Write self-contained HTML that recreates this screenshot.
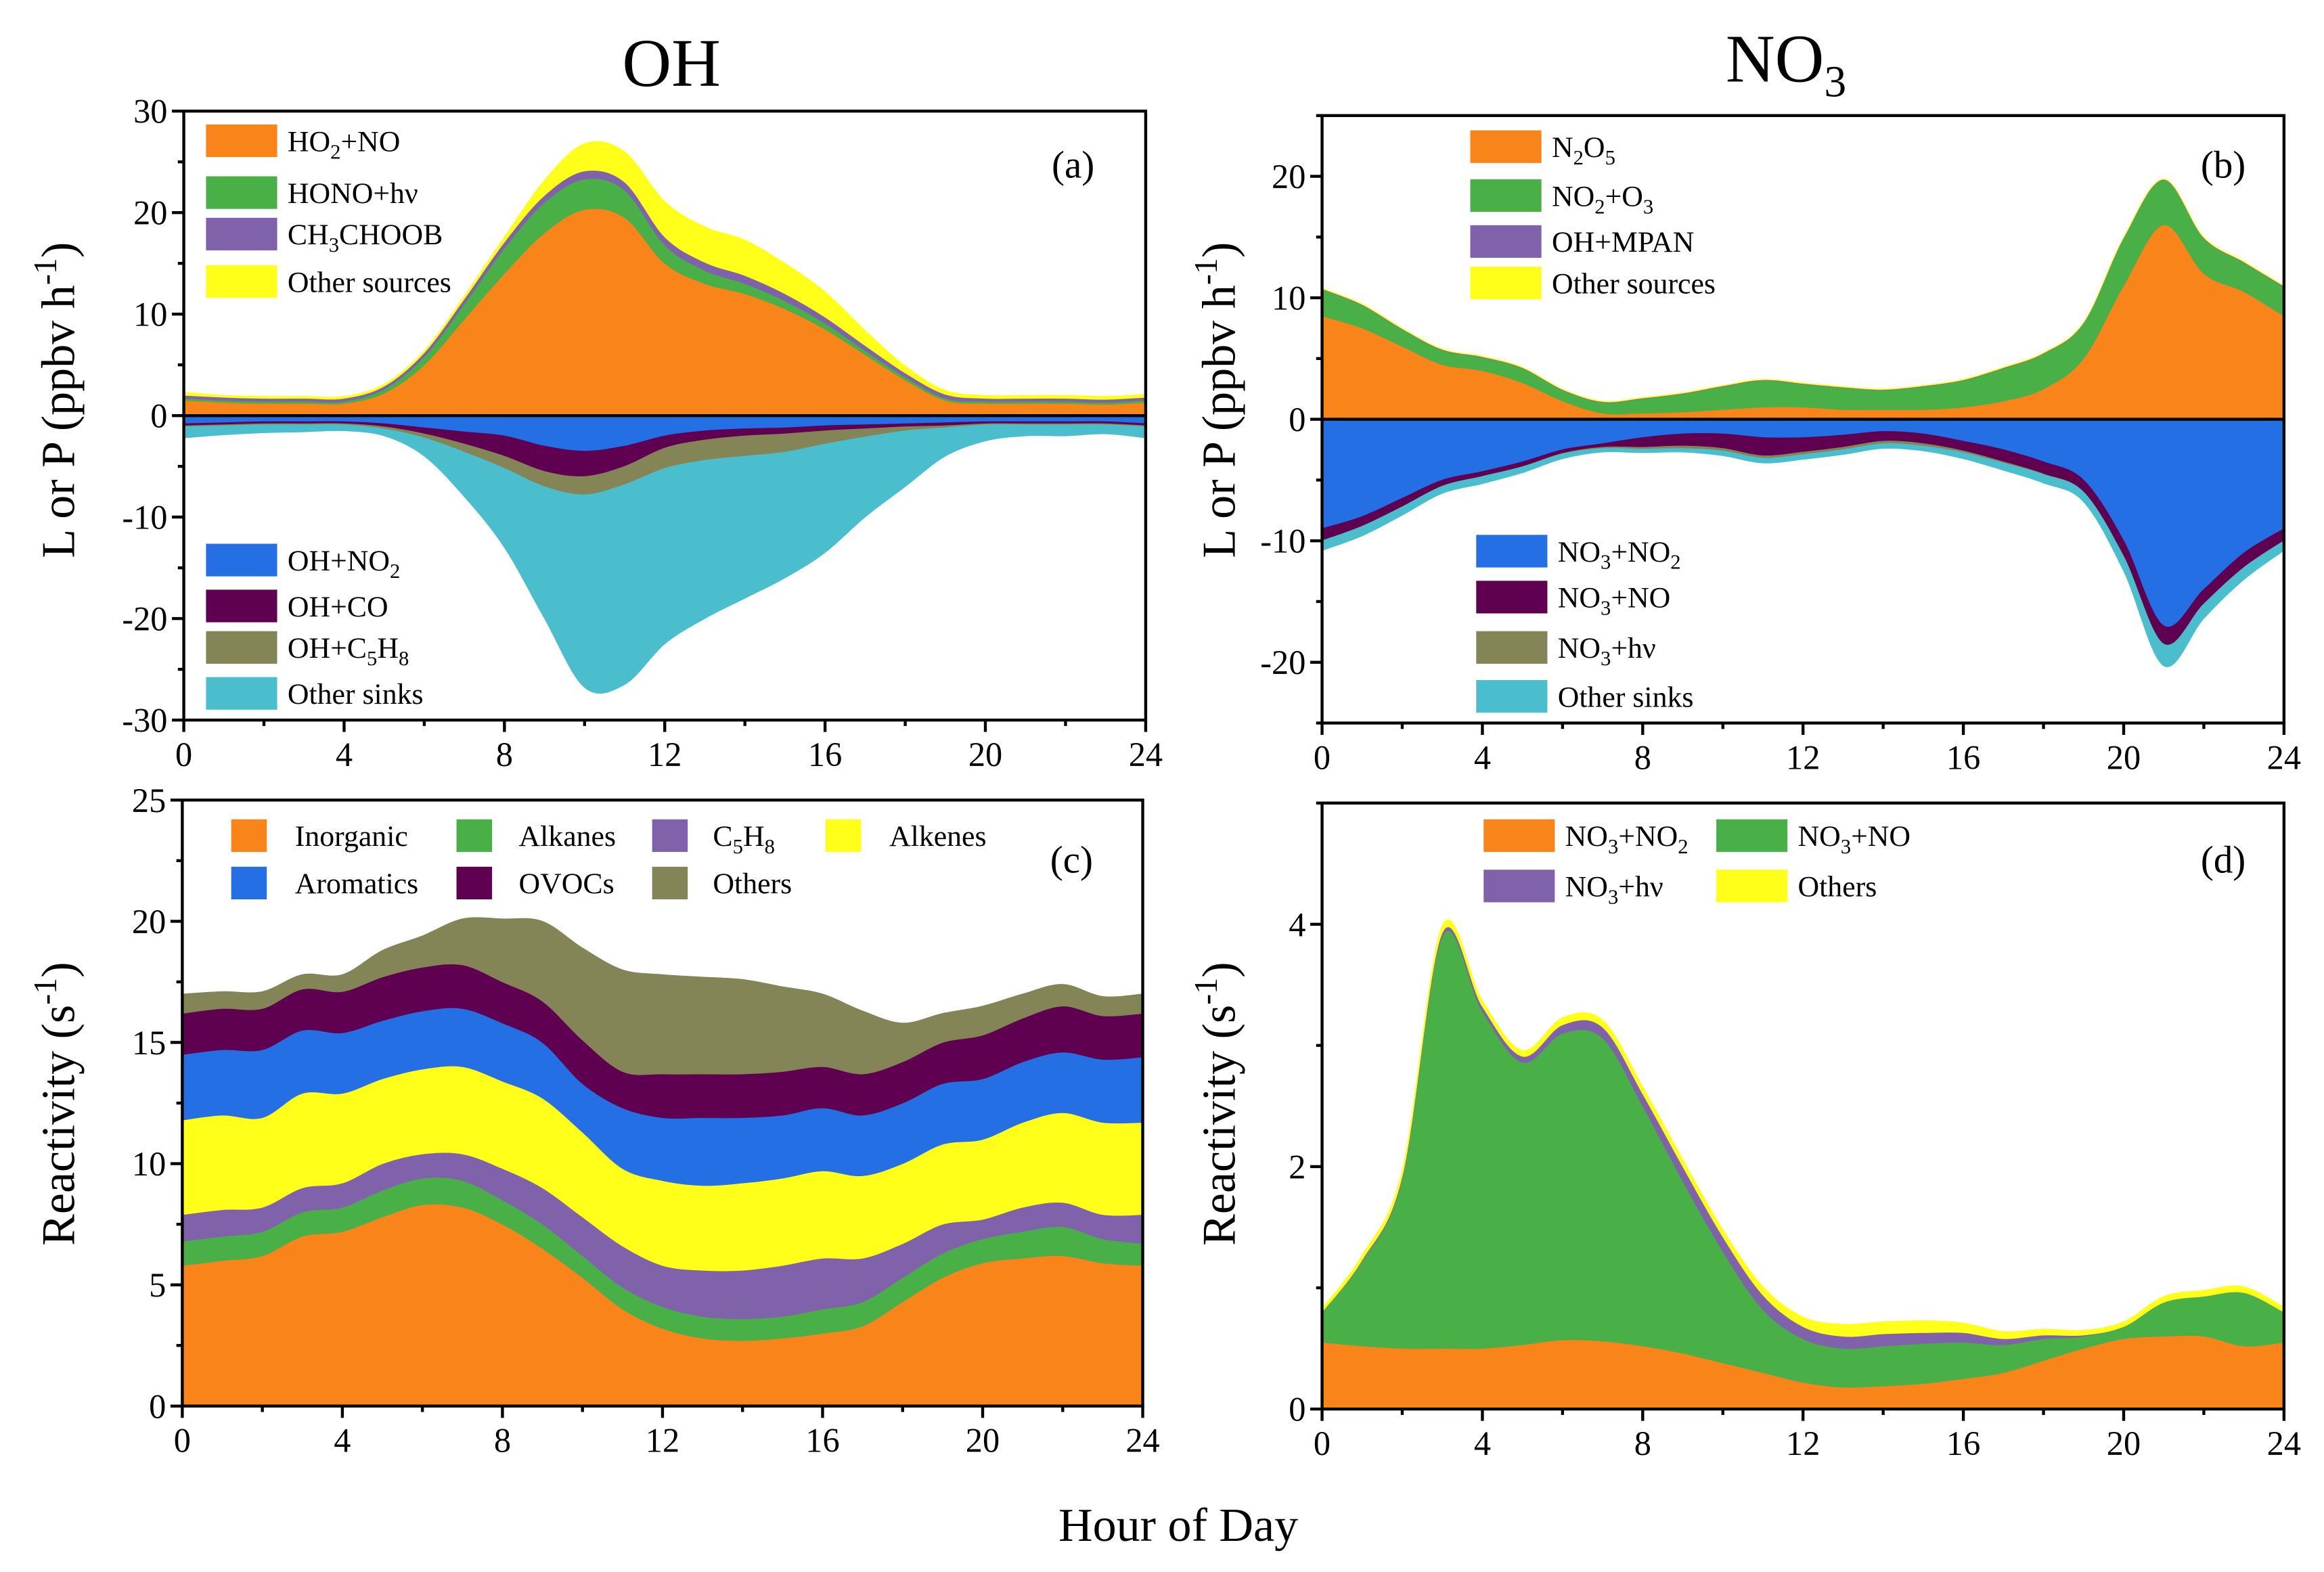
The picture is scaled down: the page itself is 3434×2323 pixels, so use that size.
<!DOCTYPE html>
<html><head><meta charset="utf-8">
<style>
html,body{margin:0;padding:0;background:#fff;}
svg{display:block;font-family:"Liberation Serif","DejaVu Serif",serif;}
svg text{font-family:"Liberation Serif","DejaVu Serif",serif;fill:#000;}
</style></head>
<body>
<svg id="fig" width="3434" height="2323" viewBox="0 0 1568 1061" preserveAspectRatio="none" font-family="'Liberation Serif', 'DejaVu Serif', serif" xmlns="http://www.w3.org/2000/svg">
<text x="453" y="58" font-size="46" text-anchor="middle">OH</text>
<text x="1205" y="55" font-size="46" text-anchor="middle">NO<tspan font-size="30" dy="10">3</tspan></text>
<text x="795" y="1040" font-size="32" text-anchor="middle">Hour of Day</text>
<text transform="translate(50,270) rotate(-90)" font-size="32" text-anchor="middle">L or P (ppbv h<tspan font-size="22" dy="-12">-1</tspan><tspan dy="12">)</tspan></text>
<text transform="translate(833,270) rotate(-90)" font-size="32" text-anchor="middle">L or P (ppbv h<tspan font-size="22" dy="-12">-1</tspan><tspan dy="12">)</tspan></text>
<text transform="translate(50,745) rotate(-90)" font-size="32" text-anchor="middle">Reactivity (s<tspan font-size="22" dy="-12">-1</tspan><tspan dy="12">)</tspan></text>
<text transform="translate(833,745) rotate(-90)" font-size="32" text-anchor="middle">Reactivity (s<tspan font-size="22" dy="-12">-1</tspan><tspan dy="12">)</tspan></text>
</svg>
<script>
const hours=[0,1,2,3,4,5,6,7,8,9,10,11,12,13,14,15,16,17,18,19,20,21,22,23,24];
// Panel a (OH) production
const aHO2NO=[1.5,1.3,1.2,1.2,1.2,2.2,5,9.5,14,18,20.3,19.5,15,13,12,10.5,8.5,6,3.5,1.5,1.2,1.2,1.2,1.1,1.3];
const aHONO=[0.2,0.2,0.2,0.2,0.2,0.4,0.8,1.5,2.5,3,3,2.7,1.8,1.3,1,0.8,0.6,0.4,0.3,0.2,0.2,0.2,0.2,0.2,0.2];
const aCH3=[0.3,0.3,0.3,0.3,0.3,0.3,0.4,0.5,0.6,0.7,0.8,0.8,0.8,0.8,0.8,0.7,0.6,0.5,0.4,0.4,0.3,0.3,0.3,0.3,0.3];
const aOtherSrc=[0.3,0.2,0.2,0.2,0.2,0.2,0.2,0.3,0.5,1.5,2.7,3,3.5,3.5,3.5,3,2.5,1.5,0.7,0.4,0.3,0.3,0.3,0.3,0.3];
// Panel a losses (negative)
const aOHNO2=[-0.8,-0.7,-0.6,-0.6,-0.6,-0.8,-1.2,-1.6,-2,-3,-3.5,-3,-2,-1.5,-1.3,-1.2,-1,-0.9,-0.8,-0.7,-0.6,-0.6,-0.6,-0.6,-0.8];
const aOHCO=[-0.2,-0.2,-0.2,-0.2,-0.2,-0.3,-0.6,-1.2,-2,-2.5,-2.5,-2,-1.2,-0.9,-0.7,-0.6,-0.5,-0.4,-0.3,-0.3,-0.2,-0.2,-0.2,-0.2,-0.2];
const aOHC5H8=[-0.1,-0.1,-0.1,-0.1,-0.1,-0.2,-0.4,-0.8,-1.2,-1.5,-1.8,-1.8,-2,-2,-2,-1.8,-1.3,-0.8,-0.4,-0.2,-0.1,-0.1,-0.1,-0.1,-0.1];
const aOtherSink=[-1.1,-0.9,-0.8,-0.7,-0.6,-0.7,-1.8,-4.4,-7.8,-13,-19,-19.7,-17.3,-15.6,-14,-12.4,-10.7,-7.9,-5.5,-2.8,-1.6,-1.1,-1.1,-0.9,-1.1];
// Panel b (NO3) production
const bN2O5=[8.5,7.5,6,4.5,4,3,1.5,0.5,0.5,0.6,0.8,1,1,0.8,0.8,0.8,1,1.5,2.5,5,11,16,12,10.5,8.5];
const bNO2O3=[2.2,1.9,1.4,1.2,1.1,1.2,0.9,0.9,1.2,1.5,1.9,2.2,1.9,1.8,1.6,1.9,2.2,2.7,2.9,2.9,3.9,3.7,2.9,2.4,2.4];
const bOHMPAN=[0.05,0.05,0.05,0.05,0.05,0.05,0.05,0.05,0.05,0.05,0.05,0.05,0.05,0.05,0.05,0.05,0.05,0.05,0.05,0.05,0.05,0.05,0.05,0.05,0.05];
const bOtherSrc=[0.05,0.05,0.05,0.05,0.05,0.05,0.05,0.05,0.05,0.05,0.05,0.05,0.05,0.05,0.05,0.05,0.05,0.05,0.05,0.05,0.05,0.05,0.05,0.05,0.05];
// Panel b losses
const bNO3NO2=[-9,-8,-6.5,-5,-4.3,-3.5,-2.5,-2,-1.5,-1.2,-1.2,-1.5,-1.5,-1.3,-1,-1.2,-1.8,-2.5,-3.5,-5,-10,-17,-14,-11,-9];
const bNO3NO=[-1,-0.8,-0.7,-0.5,-0.4,-0.4,-0.3,-0.3,-0.8,-1,-1.2,-1.5,-1.2,-1,-0.8,-0.8,-0.8,-1,-1,-1,-1.3,-1.5,-1.2,-1.2,-1];
const bNO3hv=[0,0,0,0,0,0,-0.05,-0.1,-0.15,-0.2,-0.2,-0.2,-0.2,-0.2,-0.2,-0.2,-0.15,-0.1,-0.05,0,0,0,0,0,0];
const bOtherSink=[-0.8,-0.8,-0.7,-0.6,-0.6,-0.5,-0.4,-0.3,-0.3,-0.3,-0.4,-0.4,-0.4,-0.4,-0.4,-0.4,-0.5,-0.6,-0.7,-0.8,-1.2,-1.8,-1.2,-1,-0.8];
// Panel c OH reactivity
const cInorganic=[5.8,6,6.2,7,7.2,7.8,8.3,8.2,7.5,6.5,5.3,4,3.2,2.8,2.7,2.8,3,3.3,4.3,5.3,5.9,6.1,6.2,5.9,5.8];
const cAlkanes=[1,1,1,1,1,1.1,1.1,1.1,1,1,0.9,0.9,0.9,0.9,0.9,0.9,1,1,1,1,1,1.1,1.2,1,0.9];
const cC5H8=[1.1,1.1,1,1,1,1.1,1.0,1.1,1.3,1.5,1.6,1.7,1.7,1.9,2,2.1,2.1,1.8,1.4,1.2,0.8,1.0,1.0,1.0,1.2];
const cAlkenes=[3.9,3.9,3.7,3.9,3.7,3.5,3.5,3.6,3.6,3.7,3.5,3.2,3.5,3.5,3.6,3.6,3.6,3.4,3.3,3.3,3.3,3.5,3.7,3.8,3.8];
const cAromatics=[2.7,2.7,2.8,2.6,2.5,2.4,2.4,2.4,2.4,2.3,2.0,2.5,2.6,2.8,2.7,2.6,2.6,2.5,2.5,2.5,2.5,2.5,2.5,2.6,2.7];
const cOVOCs=[1.7,1.7,1.7,1.7,1.7,1.8,1.8,1.8,1.7,1.7,1.8,1.5,1.8,1.8,1.8,1.8,1.7,1.7,1.7,1.7,1.8,1.8,1.9,1.8,1.8];
const cOthers=[0.8,0.7,0.7,0.6,0.7,1.1,1.3,1.9,2.6,3.3,3.8,4.2,4.1,4.0,3.9,3.5,3.0,2.6,1.6,1.2,1.2,1.0,0.9,0.8,0.8];
// Panel d NO3 reactivity
const dNO3NO2=[0.55,0.52,0.5,0.5,0.5,0.53,0.57,0.56,0.52,0.46,0.38,0.3,0.22,0.18,0.19,0.21,0.25,0.3,0.4,0.5,0.58,0.6,0.6,0.52,0.55];
const dNO3NO=[0.25,0.7,1.4,3.4,2.78,2.33,2.53,2.5,1.98,1.42,0.92,0.52,0.36,0.32,0.33,0.33,0.3,0.23,0.18,0.1,0.1,0.28,0.33,0.44,0.25];
const dNO3hv=[0,0.01,0.02,0.03,0.04,0.05,0.07,0.09,0.1,0.12,0.12,0.12,0.1,0.1,0.1,0.09,0.08,0.05,0.03,0.01,0,0,0,0,0];
const dOthers=[0.03,0.04,0.05,0.06,0.05,0.05,0.06,0.06,0.06,0.06,0.06,0.07,0.08,0.1,0.1,0.1,0.08,0.06,0.05,0.04,0.04,0.05,0.05,0.05,0.04];

const NS="http://www.w3.org/2000/svg";
const svg=document.getElementById('fig');
function mk(tag,attrs,parent){const e=document.createElementNS(NS,tag);for(const k in attrs)e.setAttribute(k,attrs[k]);(parent||svg).appendChild(e);return e;}
function smooth(pts){let d='';for(let i=0;i<pts.length-1;i++){const p0=pts[Math.max(0,i-1)],p1=pts[i],p2=pts[i+1],p3=pts[Math.min(pts.length-1,i+2)];
const c1=[p1[0]+(p2[0]-p0[0])/6,p1[1]+(p2[1]-p0[1])/6],c2=[p2[0]-(p3[0]-p1[0])/6,p2[1]-(p3[1]-p1[1])/6];
d+=' C'+c1[0].toFixed(2)+','+c1[1].toFixed(2)+' '+c2[0].toFixed(2)+','+c2[1].toFixed(2)+' '+p2[0].toFixed(2)+','+p2[1].toFixed(2);}return d;}
function rich(t,parts){let low=false;parts.forEach(p=>{const ts=document.createElementNS(NS,'tspan');
 if(Array.isArray(p)){ts.setAttribute('font-size','14');ts.setAttribute('dy',low?'0':'5');ts.textContent=p[0];low=true;}
 else{ts.setAttribute('dy',low?'-5':'0');ts.textContent=p;low=false;}t.appendChild(ts);});}

function panel(cfg){
 const {x0,x1,y0,y1,ymin,ymax}=cfg;
 const X=v=>x0+(v-0)/24*(x1-x0), Y=v=>y1-(v-ymin)/(ymax-ymin)*(y1-y0);
 const g=mk('g',{});
 
 
 cfg.stacks.forEach(st=>{
  let base=hours.map(()=>0);
  st.forEach(s=>{
   const top=base.map((b,i)=>b+s.v[i]);
   const up=hours.map((h,i)=>[X(h),Y(top[i])]);
   const lo=hours.map((h,i)=>[X(h),Y(base[i])]).reverse();
   const d='M'+up[0][0]+','+up[0][1]+smooth(up)+' L'+lo[0][0]+','+lo[0][1]+smooth(lo)+' Z';
   const p=mk('path',{d:d,fill:s.c,stroke:s.c,'stroke-width':0.4},g);
   
   
   base=top;
  });
 });
 if(cfg.zero){const z=mk('line',{x1:x0,x2:x1,y1:Y(0),y2:Y(0),stroke:'#000','stroke-width':2},g);
  
  }
 const fr=mk('rect',{x:x0,y:y0,width:x1-x0,height:y1-y0,fill:'none',stroke:'#000','stroke-width':2},g);
 
 
 for(let h=0;h<=24;h+=2){const maj=h%4===0;
  mk('line',{x1:X(h),x2:X(h),y1:y1,y2:y1+(maj?8:4),stroke:'#000','stroke-width':2},g);
  if(maj){const t=mk('text',{x:X(h),y:y1+31,'font-size':23,'text-anchor':'middle'},g);t.textContent=h;
   
   }}
 for(let v=ymin;v<=ymax+1e-9;v+=cfg.minor){const maj=Math.abs(Math.round(v/cfg.major)*cfg.major-v)<1e-6;
  mk('line',{x1:x0,x2:x0-(maj?8:4),y1:Y(v),y2:Y(v),stroke:'#000','stroke-width':2},g);
  if(maj&&cfg.ticks.includes(Math.round(v*100)/100)){const t=mk('text',{x:x0-11,y:Y(v)+8,'font-size':23,'text-anchor':'end'},g);t.textContent=Math.round(v*100)/100;
   
   }}
 const lb=mk('text',{x:cfg.lab[0],y:cfg.lab[1],'font-size':26,'text-anchor':'middle'},g);lb.textContent=cfg.label;
 
 
 cfg.legend.forEach(L=>{
  const sw=mk('rect',{x:L[0],y:L[1]-11,width:L[2],height:22,fill:L[3]},g);
  
  
  const t=mk('text',{x:L[0]+L[2]+(L[5]||7),y:L[1]+7,'font-size':20},g);rich(t,L[4]);
  
  
 });
}
const O='#f9841a',G='#48b047',P='#8062ab',Yl='#ffff19',B='#246fe3',M='#5f0051',Ol='#838556',C='#4bbecd';
panel({name:'panel-a',x0:124,x1:773,y0:75,y1:486,ymin:-30,ymax:30,major:10,minor:5,ticks:[-30,-20,-10,0,10,20,30],zero:true,label:'(a)',lab:[724,120],
 stacks:[[{n:'ho2-no',v:aHO2NO,c:O},{n:'hono-hv',v:aHONO,c:G},{n:'ch3choob',v:aCH3,c:P},{n:'other-sources',v:aOtherSrc,c:Yl}],
 [{n:'oh-no2',v:aOHNO2,c:B},{n:'oh-co',v:aOHCO,c:M},{n:'oh-c5h8',v:aOHC5H8,c:Ol},{n:'other-sinks',v:aOtherSink,c:C}]],
 legend:[[139,95,48,O,['HO',['2'],'+NO']],[139,130,48,G,['HONO+hν']],[139,158,48,P,['CH',['3'],'CHOOB']],[139,190,48,Yl,['Other sources']],
 [139,378,48,B,['OH+NO',['2']]],[139,409,48,M,['OH+CO']],[139,437,48,Ol,['OH+C',['5'],'H',['8']]],[139,468,48,C,['Other sinks']]]});
panel({name:'panel-b',x0:892,x1:1541,y0:78,y1:488,ymin:-25,ymax:25,major:10,minor:5,ticks:[-20,-10,0,10,20],zero:true,label:'(b)',lab:[1500,120],
 stacks:[[{n:'n2o5',v:bN2O5,c:O},{n:'no2-o3',v:bNO2O3,c:G},{n:'oh-mpan',v:bOHMPAN,c:P},{n:'other-sources',v:bOtherSrc,c:Yl}],
 [{n:'no3-no2',v:bNO3NO2,c:B},{n:'no3-no',v:bNO3NO,c:M},{n:'no3-hv',v:bNO3hv,c:Ol},{n:'other-sinks',v:bOtherSink,c:C}]],
 legend:[[992,99,48,O,['N',['2'],'O',['5']]],[992,132,48,G,['NO',['2'],'+O',['3']]],[992,163,48,P,['OH+MPAN']],[992,191,48,Yl,['Other sources']],
 [996,372,48,B,['NO',['3'],'+NO',['2']]],[996,403,48,M,['NO',['3'],'+NO']],[996,437,48,Ol,['NO',['3'],'+hν']],[996,470,48,C,['Other sinks']]]});
panel({name:'panel-c',x0:123,x1:771,y0:540,y1:949,ymin:0,ymax:25,major:5,minor:2.5,ticks:[0,5,10,15,20,25],zero:false,label:'(c)',lab:[723,589],
 stacks:[[{n:'inorganic',v:cInorganic,c:O},{n:'alkanes',v:cAlkanes,c:G},{n:'c5h8',v:cC5H8,c:P},{n:'alkenes',v:cAlkenes,c:Yl},{n:'aromatics',v:cAromatics,c:B},{n:'ovocs',v:cOVOCs,c:M},{n:'others',v:cOthers,c:Ol}]],
 legend:[[156,564,24,O,['Inorganic'],19],[308,564,24,G,['Alkanes'],18],[440,564,24,P,['C',['5'],'H',['8']],17],[557,564,24,Yl,['Alkenes'],19],
 [156,596,24,B,['Aromatics'],19],[308,596,24,M,['OVOCs'],18],[440,596,24,Ol,['Others'],17]]});
panel({name:'panel-d',x0:892,x1:1541,y0:542,y1:951,ymin:0,ymax:5,major:2,minor:1,ticks:[0,2,4],zero:false,label:'(d)',lab:[1500,589],
 stacks:[[{n:'no3-no2',v:dNO3NO2,c:O},{n:'no3-no',v:dNO3NO,c:G},{n:'no3-hv',v:dNO3hv,c:P},{n:'others',v:dOthers,c:Yl}]],
 legend:[[1001,564,48,O,['NO',['3'],'+NO',['2']]],[1158,564,48,G,['NO',['3'],'+NO']],[1001,598,48,P,['NO',['3'],'+hν']],[1158,598,48,Yl,['Others']]]});
</script>
</body></html>
